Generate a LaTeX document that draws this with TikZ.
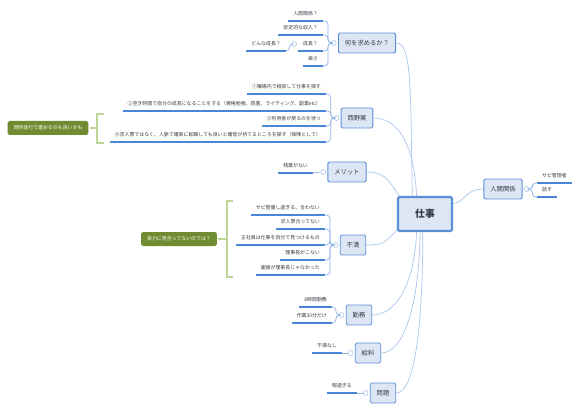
\documentclass[tikz,border=0pt]{standalone}
\usepackage{fontspec}
\setmainfont{Noto Sans CJK JP}
\usetikzlibrary{positioning,calc}

\definecolor{cFill}{HTML}{DCE6F4}
\definecolor{cLine}{HTML}{5B8FD9}
\definecolor{cBranch}{HTML}{A9C6EC}
\definecolor{cTwig}{HTML}{8DB3E8}
\definecolor{cUnder}{HTML}{4A86D8}
\definecolor{cNote}{HTML}{6F8C32}
\definecolor{cBrace}{HTML}{BDD697}
\definecolor{cInk}{HTML}{333A44}

\tikzset{
  topic/.style={draw=cLine, fill=cFill, line width=1.3pt, rounded corners=2pt, text=cInk,
    font=\fontsize{9}{10}\selectfont, minimum height=10mm, inner xsep=3.2mm},
  centre/.style={topic, line width=3.2pt, font=\fontsize{14}{16}\selectfont\bfseries,
    minimum width=27mm, minimum height=17mm},
  leaf/.style={text=cInk, font=\fontsize{7}{8}\selectfont, inner xsep=2.5mm,
    inner ysep=6.5pt, text height=5.5pt, text depth=1pt},
  note/.style={fill=cNote, text=white, rounded corners=2.5pt, font=\fontsize{7}{8}\selectfont,
    minimum height=7mm, inner xsep=3mm},
  knob/.style={circle, draw=cTwig, fill=white, line width=0.6pt, minimum size=2.5mm, inner sep=0pt},
  branch/.style={draw=cBranch, line width=1pt},
  twig/.style={draw=cTwig, line width=1pt, rounded corners=5pt},
  uline/.style={draw=cUnder, line width=1.7pt},
  bracket/.style={draw=cBrace, line width=3pt}
}

\begin{document}
\begin{tikzpicture}[x=0.5mm,y=-0.5mm]
	\useasboundingbox (0,0) rectangle (580,411);

	% Centre and main topics
	\node[centre] (main) at (425,214) {仕事};
	\node[topic] (q1) at (367,43) {何を求めるか？};
	\node[topic] (q2) at (357,118) {西野案};
	\node[topic] (q3) at (347,172) {メリット};
	\node[topic] (q4) at (353,245) {不満};
	\node[topic] (q5) at (359,315) {勤務};
	\node[topic] (q6) at (368,353) {給料};
	\node[topic] (q7) at (383,393) {問題};
	\node[topic] (q8) at (503,189) {人間関係};

	% Knobs
	\foreach \i in {1,...,7}
		\node[knob, left=0.75mm of q\i] (k\i) {};
	\node[knob, right=0.75mm of q8] (k8) {};

	% Branches
	\draw[branch] (main.125) .. controls +(-2,-110) and +(16,0) .. (q1.east);
	\draw[branch] (main.115) .. controls +(-2,-45) and +(28,0) .. (q2.east);
	\draw[branch] (main.145) .. controls +(-10,-14) and +(20,0) .. (q3.east);
	\draw[branch] (main.210) .. controls +(-12,12) and +(18,0) .. (q4.east);
	\draw[branch] (main.245) .. controls +(-2,50) and +(25,0) .. (q5.east);
	\draw[branch] (main.255) .. controls +(-1,75) and +(22,0) .. (q6.east);
	\draw[branch] (main.263) .. controls +(0,110) and +(16,0) .. (q7.east);
	\draw[branch] (main.20) .. controls +(12,-2) and +(-18,0) .. (q8.west);

	% What to look for
	\node[leaf, anchor=south east] (a1) at (323,21) {人間関係？};
	\node[leaf, anchor=south east] (a2) at (323,35) {安定的な収入？};
	\node[leaf, anchor=south east] (a3) at (323,51) {成長？};
	\node[leaf, anchor=south east] (a4) at (323,66) {楽さ};
	\node[knob, left=0.6mm of a3] (ka3) {};
	\node[leaf, anchor=south east] (a31) at (286,51) {どんな成長？};
	\foreach \n in {a1,a2,a3,a4}
		\draw[twig] (k1.west) -- ++(-3,0) |- (\n.south east);
	\draw[twig] (ka3.west) -- ++(-2,0) |- (a31.south east);

	% Nishino plan
	\node[leaf, anchor=south east] (b1) at (326,94) {①職場内で相談して仕事を探す};
	\node[leaf, anchor=south east] (b2) at (326,111) {②空き時間で自分の成長になることをする（資格勉強、読書、ライティング、副業etc）};
	\node[leaf, anchor=south east] (b3) at (326,126) {③利用者が戻るのを待つ};
	\node[leaf, anchor=south east] (b4) at (326,142) {④求人票ではなく、人脈で確実に転職しても良いと確信が持てるところを探す（保険として）};
	\foreach \n in {b1,b2,b3,b4}
		\draw[twig] (k2.west) -- ++(-3,0) |- (\n.south east);

	\node[note] (n1) at (48,128) {同時並行で進めるのも良いかも};
	\draw[bracket] (104,114) -| (97,143) -- (104,143);
	\coordinate (m1) at (97,128);
	\draw[bracket, shorten >=2pt] (m1) -- (n1);

	% Merit
	\node[leaf, anchor=south east] (c1) at (313,173) {残業がない};
	\draw[twig] (k3.west) -- (c1.south east);

	% Complaints
	\node[leaf, anchor=south east] (d1) at (325,215) {サビ管優し過ぎる、合わない};
	\node[leaf, anchor=south east] (d2) at (325,229) {求人票合ってない};
	\node[leaf, anchor=south east] (d3) at (325,245) {正社員は仕事を自分で見つけるもの};
	\node[leaf, anchor=south east] (d4) at (325,260) {理事長がこない};
	\node[leaf, anchor=south east] (d5) at (325,275) {面接が理事長じゃなかった};
	\foreach \n in {d1,d2,d3,d4,d5}
		\draw[twig] (k4.west) -- ++(-3,0) |- (\n.south east);

	\node[note] (n2) at (179,239) {実力に見合ってないのでは？};
	\draw[bracket] (233,201) -| (227,277) -- (233,277);
	\coordinate (m2) at (227,239);
	\draw[bracket, shorten >=2pt] (m2) -- (n2);

	% Work, pay, problems
	\node[leaf, anchor=south east] (e1) at (332,307) {8時間勤務};
	\node[leaf, anchor=south east] (e2) at (332,323) {作業30分だけ};
	\foreach \n in {e1,e2}
		\draw[twig] (k5.west) -- ++(-3,0) |- (\n.south east);

	\node[leaf, anchor=south east] (f1) at (342,353) {不満なし};
	\draw[twig] (k6.west) -- (f1.south east);

	\node[leaf, anchor=south east] (g1) at (357,393) {暇過ぎる};
	\draw[twig] (k7.west) -- (g1.south east);

	% Relations
	\node[leaf, anchor=south west] (h1) at (537,183) {サビ管理者};
	\node[leaf, anchor=south west] (h2) at (537,197) {話す};
	\foreach \n in {h1,h2}
		\draw[twig] (k8.east) -- ++(3,0) |- (\n.south west);

	% Underlines
	\foreach \n in {a1,a2,a3,a4,a31,b1,b2,b3,b4,c1,d1,d2,d3,d4,d5,e1,e2,f1,g1}
		\draw[uline] (\n.south west) -- (\n.south east);
	\foreach \n in {h1,h2}
		\draw[uline] (\n.south west) -- (\n.south east);

\end{tikzpicture}
\end{document}
